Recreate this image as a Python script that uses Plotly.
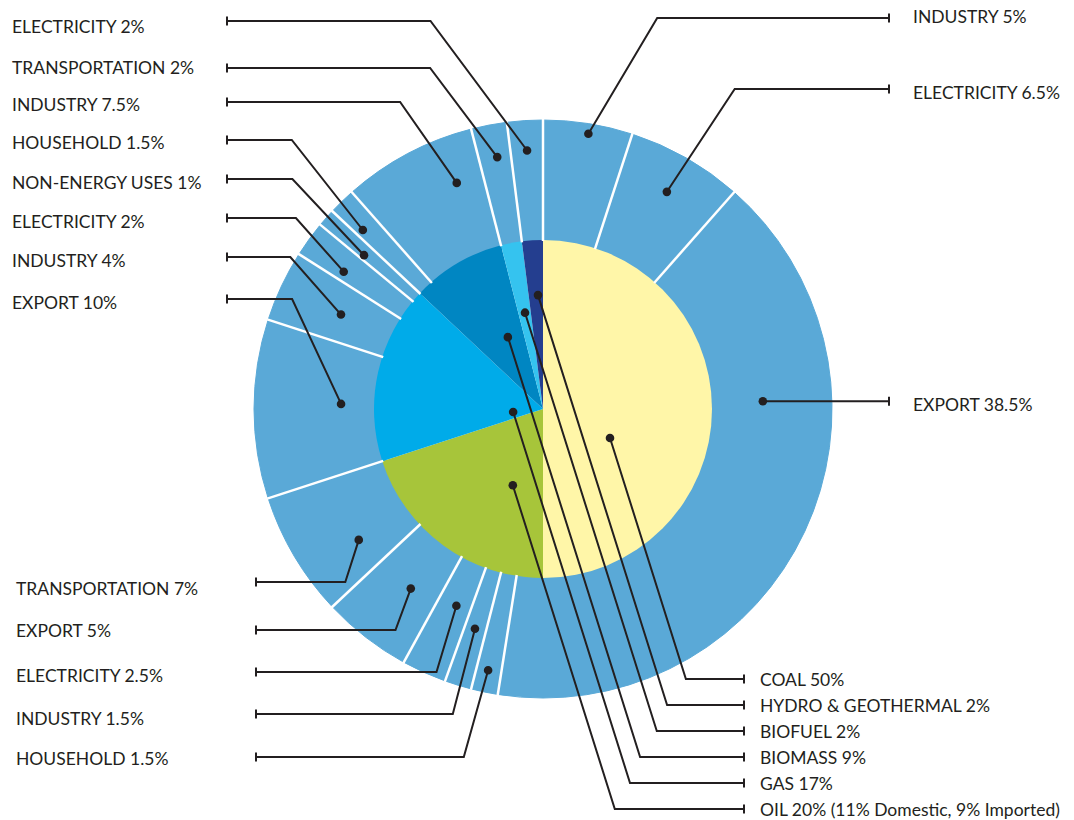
import math
import plotly.graph_objects as go

# ---------------- data ----------------
source_names = ["COAL", "OIL", "GAS", "BIOMASS", "BIOFUEL", "HYDRO & GEOTHERMAL"]
source_values = [50, 20, 17, 9, 2, 2]
oil_domestic = 11
oil_imported = 9

use_names = ["INDUSTRY", "ELECTRICITY", "EXPORT",
             "", "HOUSEHOLD", "INDUSTRY", "ELECTRICITY", "EXPORT", "TRANSPORTATION",
             "EXPORT", "INDUSTRY", "ELECTRICITY", "NON-ENERGY USES",
             "HOUSEHOLD", "INDUSTRY",
             "TRANSPORTATION",
             "ELECTRICITY"]
use_values = [5, 6.5, 38.5,
              2.5, 1.5, 1.5, 2.5, 5, 7,
              10, 4, 2, 1,
              1.5, 7.5,
              2,
              2]
use_parents = ["COAL"] * 3 + ["OIL"] * 6 + ["GAS"] * 4 + ["BIOMASS"] * 2 + ["BIOFUEL", "HYDRO & GEOTHERMAL"]

# ---------------- style / layout ----------------
W, H = 1074, 820
CX, CY = 543, 409
R_OUT, R_IN = 289, 168
source_colors = ["#fff6a8", "#a7c53a", "#00abe9", "#0086c2", "#35c3ef", "#243e8f"]
ring_color = "#5aa9d7"
ink = "#231f20"
FONT = dict(family="Lato, 'Open Sans', sans-serif", size=17.5, color=ink)
TEXT_PAD = 2  # annotation box padding compensation

# leader layout for outer slices: index -> (frac, radius, line_y, slope, tick_x, text_x, text_y)
outer_leaders = {
    0: (0.52, 279, 18, -0.595, 889, 913, 16),
    1: (0.50, 250, 89, -0.66, 889, 913, 92),
    2: (0.336, 220, None, 0, 889, 913, 404),
    4: (0.53, 267, 757, -0.28, 256, 16, 758),
    5: (0.52, 230, 714, -0.26, 256, 16, 718),
    6: (0.44, 215, 672, -0.30, 256, 16, 675),
    7: (0.42, 223, 630, -0.37, 256, 16, 630),
    8: (0.31, 226, 582, -0.32, 256, 16, 588),
    9: (0.54, 202, 299, 0.467, 227, 12, 302),
    10: (0.49, 223, 257, 0.88, 227, 12, 260),
    11: (0.30, 242, 218, 0.89, 227, 12, 221),
    12: (0.30, 236, 179, 0.94, 227, 12, 182),
    13: (0.30, 254, 140, 0.79, 227, 12, 142),
    14: (0.76, 242, 102, 0.70, 227, 12, 104),
    15: (0.57, 256, 68, 0.753, 227, 12, 67),
    16: (0.51, 259, 21, 0.746, 227, 12, 26),
}
# leader layout for inner slices: index -> (frac, radius, line_y)
inner_leaders = {
    0: (0.63, 73, 679),
    5: (0.65, 114, 705),
    4: (0.53, 98, 731),
    3: (0.64, 80, 757),
    2: (0.20, 30, 783),
    1: (0.30, 82, 809),
}
INNER_SLOPE = 0.315
INNER_TICK_X = 744
INNER_TEXT_X = 760


def spans(values):
    total = float(sum(values))
    out, acc = [], 0.0
    for v in values:
        a0 = acc / total * 360
        acc += v
        out.append((a0, acc / total * 360))
    return out


def polar(theta, r):
    t = math.radians(theta)
    return CX + r * math.sin(t), CY - r * math.cos(t)


def fmt(v):
    return f"{v:g}%"


shapes, annotations = [], []

# white separators of the outer ring (boundaries of the use slices)
outer_spans = spans(use_values)
for k, (a0, a1) in enumerate(outer_spans):
    if use_names[k] == "":
        continue  # unlabeled remainder merges visually with its neighbour
    x0, y0 = polar(a0, R_IN)
    x1, y1 = polar(a0, R_OUT + 1)
    shapes.append(dict(type="line", xref="x", yref="y", x0=x0, y0=y0, x1=x1, y1=y1,
                       line=dict(color="white", width=2.5)))


def add_leader(dot, line_y, slope, tick_x, text, text_x, text_y):
    dx, dy = dot
    if line_y is None:
        line_y = dy
        bend_x = dx
    else:
        bend_x = dx + (line_y - dy) * slope
    shapes.append(dict(type="path", xref="x", yref="y",
                       path=f"M {tick_x},{line_y} L {bend_x:.1f},{line_y} L {dx:.1f},{dy:.1f}",
                       line=dict(color=ink, width=2)))
    shapes.append(dict(type="line", xref="x", yref="y", x0=tick_x, x1=tick_x,
                       y0=line_y - 4.5, y1=line_y + 4.5, line=dict(color=ink, width=2)))
    shapes.append(dict(type="circle", xref="x", yref="y", x0=dx - 4.3, x1=dx + 4.3,
                       y0=dy - 4.3, y1=dy + 4.3, fillcolor=ink, line=dict(width=0)))
    annotations.append(dict(x=text_x - TEXT_PAD, y=text_y, xref="x", yref="y", text=text,
                            showarrow=False, xanchor="left", yanchor="middle", font=FONT))


for i, (frac, r, ly, slope, tx, txx, ty) in outer_leaders.items():
    a0, a1 = outer_spans[i]
    dot = polar(a0 + frac * (a1 - a0), r)
    add_leader(dot, ly, slope, tx, f"{use_names[i]} {fmt(use_values[i])}", txx, ty)

inner_spans = spans(source_values)
for i, (frac, r, ly) in inner_leaders.items():
    a0, a1 = inner_spans[i]
    dot = polar(a0 + frac * (a1 - a0), r)
    text = f"{source_names[i]} {fmt(source_values[i])}"
    if source_names[i] == "OIL":
        text += f" ({oil_domestic}% Domestic, {oil_imported}% Imported)"
    add_leader(dot, ly, INNER_SLOPE, INNER_TICK_X, text, INNER_TEXT_X, ly)


def dom(r):
    return dict(x=[(CX - r) / W, (CX + r) / W], y=[1 - (CY + r) / H, 1 - (CY - r) / H])


fig = go.Figure()
fig.add_trace(go.Scatter(x=[0], y=[0], mode="markers", marker=dict(opacity=0),
                         hoverinfo="skip", showlegend=False))
fig.add_trace(go.Pie(
    values=use_values,
    labels=[f"{p} – {n or 'other'}" for p, n in zip(use_parents, use_names)],
    sort=False, direction="clockwise", rotation=0,
    hole=(R_IN - 2) / R_OUT, domain=dom(R_OUT),
    marker=dict(colors=[ring_color] * len(use_values),
                line=dict(color=ring_color, width=1)),
    textinfo="none", showlegend=False))
fig.add_trace(go.Pie(
    values=source_values, labels=source_names,
    sort=False, direction="clockwise", rotation=0,
    domain=dom(R_IN + 1),
    marker=dict(colors=source_colors, line=dict(width=0)),
    textinfo="none", showlegend=False))

fig.update_layout(
    width=W, height=H, margin=dict(l=0, r=0, t=0, b=0),
    paper_bgcolor="white", plot_bgcolor="white", showlegend=False,
    xaxis=dict(range=[0, W], visible=False, fixedrange=True, domain=[0, 1]),
    yaxis=dict(range=[H, 0], visible=False, fixedrange=True, domain=[0, 1]),
    shapes=shapes, annotations=annotations,
)
fig.write_html("out.html")
